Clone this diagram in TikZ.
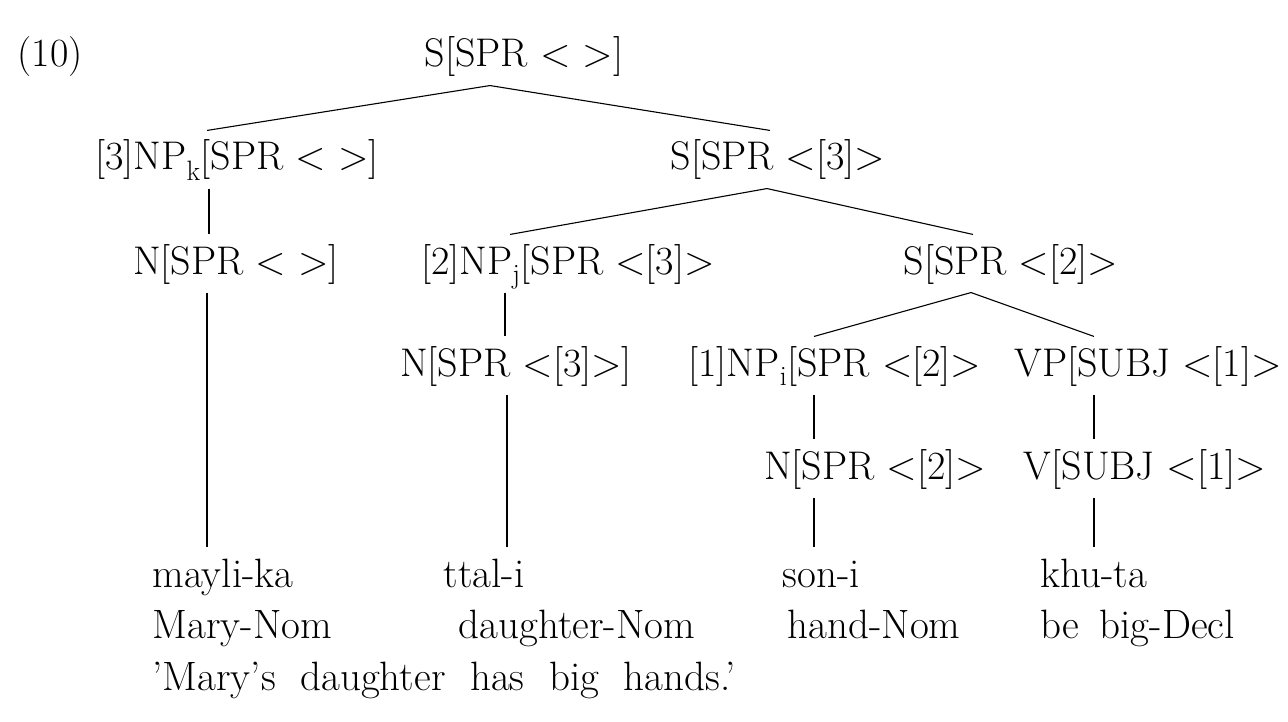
\documentclass[tikz,border=0pt]{standalone}
\begin{document}
\begin{tikzpicture}[x=1pt, y=-1pt, line width=1.1pt,
    font=\fontsize{40}{48}\selectfont,
    cat/.style={anchor=base, text height=31pt, text depth=10pt, inner ysep=8pt, inner xsep=0pt},
    word/.style={anchor=base west, font=\fontsize{41}{49}\selectfont, text height=31pt, text depth=10pt, inner ysep=8pt, inner xsep=0pt}]
    \useasboundingbox (0,0) rectangle (1288,722);
    % tree
    \node (num) [cat] at (50,67) {(10)};
    \node (s0) [cat] at (524,67) {S[SPR < >]};
    \node (npk) [cat] at (237,170) {[3]NP\textsubscript{k}[SPR < >]};
    \node (s1) [cat] at (778,170) {S[SPR <[3]>};
    \node (nk) [cat] at (236,274) {N[SPR < >]};
    \node (npj) [cat] at (568,274) {[2]NP\textsubscript{j}[SPR <[3]>};
    \node (s2) [cat] at (1011,274) {S[SPR <[2]>};
    \node (nj) [cat] at (516,376) {N[SPR <[3]>]};
    \node (npi) [cat] at (835,376) {[1]NP\textsubscript{i}[SPR <[2]>};
    \node (vp) [cat] at (1148,376) {VP[SUBJ <[1]>};
    \node (ni) [cat] at (875,479) {N[SPR <[2]>};
    \node (v) [cat] at (1145,479) {V[SUBJ <[1]>};
    % words and glosses
    \node (wk) [word] at (152,587) {mayli-ka};
    \node (wj) [word] at (443,587) {ttal-i};
    \node (wi) [word] at (782,587) {son-i};
    \node (wv) [word] at (1040,587) {khu-ta};
    \node (gk) [word] at (152,638) {Mary-Nom};
    \node (gj) [word] at (458,638) {daughter-Nom};
    \node (gi) [word] at (787,638) {hand-Nom};
    \node (gv) [word] at (1040,638) {\spaceskip=.5em be big-Decl};
    \node (tr) [word] at (152,690) {\spaceskip=.6em ’Mary’s daughter has big hands.’};
    % branches
    \draw ([xshift=-34pt]s0.south) -- ([xshift=-30pt]npk.north);
    \draw ([xshift=-34pt]s0.south) -- ([xshift=-8pt]s1.north);
    \draw ([xshift=-28pt]npk.south) -- ([xshift=-27pt]nk.north);
    \draw ([xshift=-11pt]s1.south) -- ([xshift=-58pt]npj.north);
    \draw ([xshift=-11pt]s1.south) -- ([xshift=-38pt]s2.north);
    \draw ([xshift=-63pt]npj.south) -- ([xshift=-11pt]nj.north);
    \draw ([xshift=-40pt]s2.south) -- ([xshift=-21pt]npi.north);
    \draw ([xshift=-40pt]s2.south) -- ([xshift=-54pt]vp.north);
    \draw ([xshift=-21pt]npi.south) -- ([xshift=-61pt]ni.north);
    \draw ([xshift=-54pt]vp.south) -- ([xshift=-51pt]v.north);
    \draw ([xshift=-29pt]nk.south) coordinate (a) -- (a |- wk.north);
    \draw ([xshift=-9pt]nj.south) coordinate (b) -- (b |- wj.north);
    \draw ([xshift=-61pt]ni.south) coordinate (c) -- (c |- wi.north);
    \draw ([xshift=-51pt]v.south) coordinate (d) -- (d |- wv.north);
\end{tikzpicture}
\end{document}
